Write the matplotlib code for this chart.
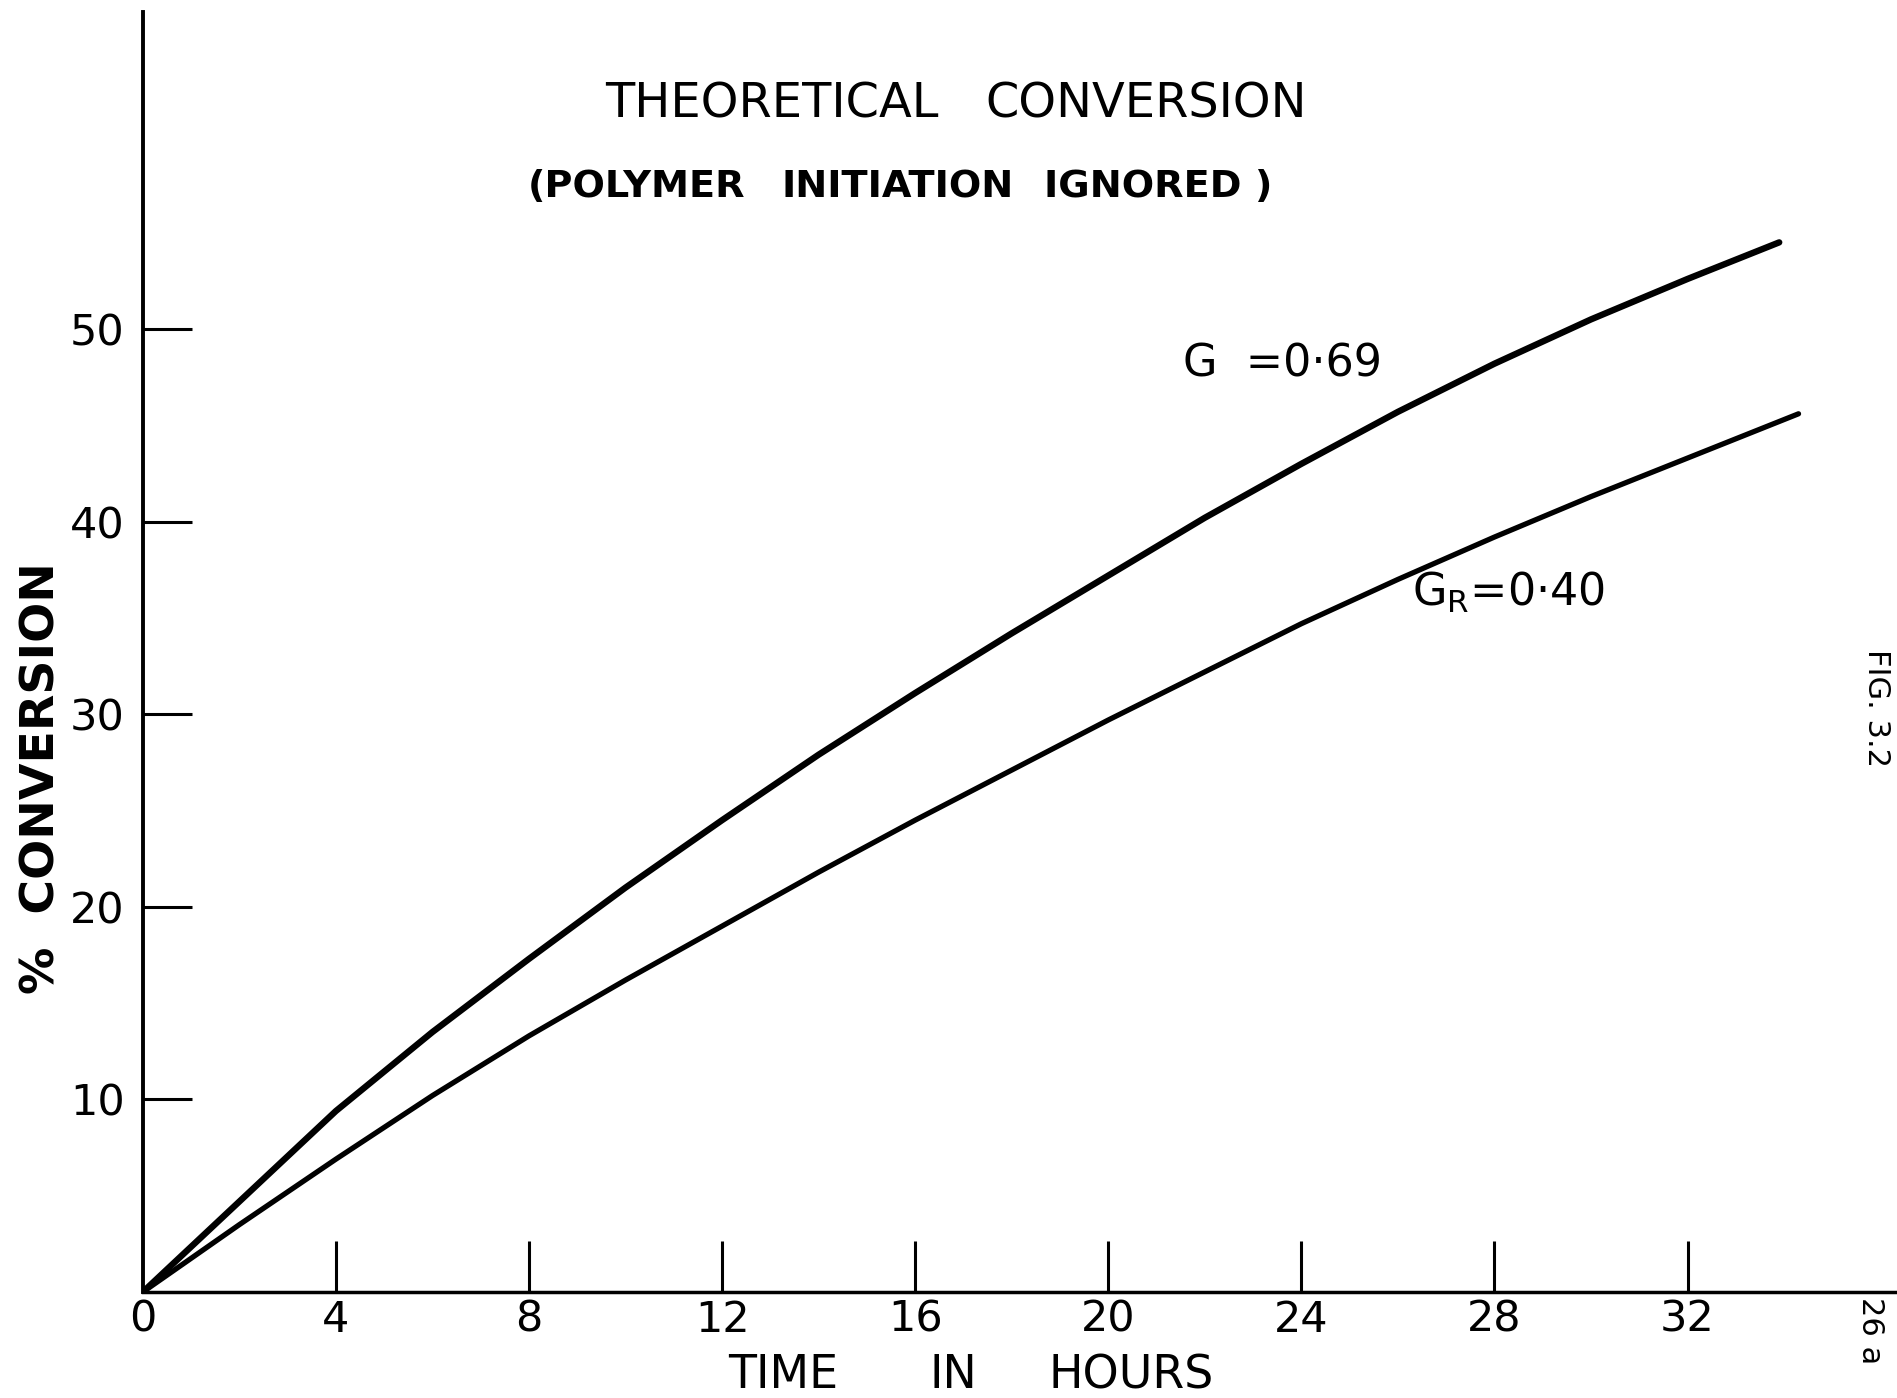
import matplotlib
matplotlib.use("Agg")
import matplotlib.pyplot as plt

# ---- data ----
hours_g = [0, 2, 4, 6, 8, 10, 12, 14, 16, 18, 20, 22, 24, 26, 28, 30, 32, 33.9]
conv_g = [0, 4.7, 9.4, 13.5, 17.3, 21.0, 24.5, 27.9, 31.1, 34.2, 37.2, 40.2, 43.0, 45.7, 48.2, 50.5, 52.6, 54.5]

hours_gr = [0, 2, 4, 6, 8, 10, 12, 14, 16, 18, 20, 22, 24, 26, 28, 30, 32, 34.3]
conv_gr = [0, 3.5, 6.9, 10.2, 13.3, 16.2, 19.0, 21.8, 24.5, 27.1, 29.7, 32.2, 34.7, 37.0, 39.2, 41.3, 43.3, 45.6]

x_ticks = [0, 4, 8, 12, 16, 20, 24, 28, 32]
x_tick_labels = ["0", "4", "8", "12", "16", "20", "24", "28", "32"]
y_ticks = [10, 20, 30, 40, 50]
y_tick_labels = ["10", "20", "30", "40", "50"]

label_g = "G  =0·69"
label_gr = r"$\mathregular{G_R}$=0·40"

plt.rcParams['font.family'] = ['DejaVu Sans']

fig = plt.figure(figsize=(18.97, 13.98), dpi=100)
fig.patch.set_facecolor("white")
ax = fig.add_axes([0.0753, 0.0758, 0.9247, 0.9156])
ax.set_xlim(0, 36.34)
ax.set_ylim(0, 66.46)

ax.plot(hours_g, conv_g, color="black", lw=4.6, solid_capstyle="round", solid_joinstyle="round")
ax.plot(hours_gr, conv_gr, color="black", lw=3.8, solid_capstyle="round", solid_joinstyle="round")

for s in ("top", "right"):
    ax.spines[s].set_visible(False)
ax.spines["left"].set_linewidth(2.8)
ax.spines["bottom"].set_linewidth(2.5)

ax.set_xticks(x_ticks)
ax.set_xticklabels(x_tick_labels)
ax.set_yticks(y_ticks)
ax.set_yticklabels(y_tick_labels)
ax.tick_params(axis="x", direction="in", length=37, width=2.2, pad=5, labelsize=31, colors="black")
ax.tick_params(axis="y", direction="in", length=35, width=2.2, pad=13, labelsize=31, colors="black")
ax.xaxis.get_major_ticks()[0].tick1line.set_visible(False)

# curve labels
ax.text(21.55, 48.2, label_g, fontsize=32, ha="left", va="center")
ax.text(26.3, 36.3, label_gr, fontsize=32, ha="left", va="center")

# title
fig.text(638 / 1568, 1 - 97 / 1156, "THEORETICAL", fontsize=34.5, ha="center", va="baseline")
fig.text(947 / 1568, 1 - 97 / 1156, "CONVERSION", fontsize=34.5, ha="center", va="baseline")
# subtitle
fig.text(526 / 1568, 1 - 163 / 1156, "(POLYMER", fontsize=27.5, fontweight="bold",
         ha="center", va="baseline")
fig.text(742 / 1568, 1 - 163 / 1156, "INITIATION", fontsize=27.5, fontweight="bold",
         ha="center", va="baseline")
fig.text(957 / 1568, 1 - 163 / 1156, "IGNORED )", fontsize=27.5, fontweight="bold",
         ha="center", va="baseline")

# axis labels
fig.text(783 / 1897, 1 - 1376 / 1398, "TIME", fontsize=33, ha="center", va="center")
fig.text(953 / 1897, 1 - 1376 / 1398, "IN", fontsize=33, ha="center", va="center")
fig.text(1131 / 1897, 1 - 1376 / 1398, "HOURS", fontsize=33, ha="center", va="center")
fig.text(35 / 1568, 1 - 643 / 1156, "%  CONVERSION", fontsize=34, fontweight="bold",
         rotation=90, ha="center", va="center")

# margin notes
fig.text(1876 / 1897, 1 - 708 / 1398, "FIG. 3.2", fontsize=22, rotation=-90,
         ha="center", va="center")
fig.text(1871 / 1897, 1 - 1331 / 1398, "26 a", fontsize=22, rotation=-90,
         ha="center", va="center")

fig.savefig("out.png", dpi=100, facecolor="white")
